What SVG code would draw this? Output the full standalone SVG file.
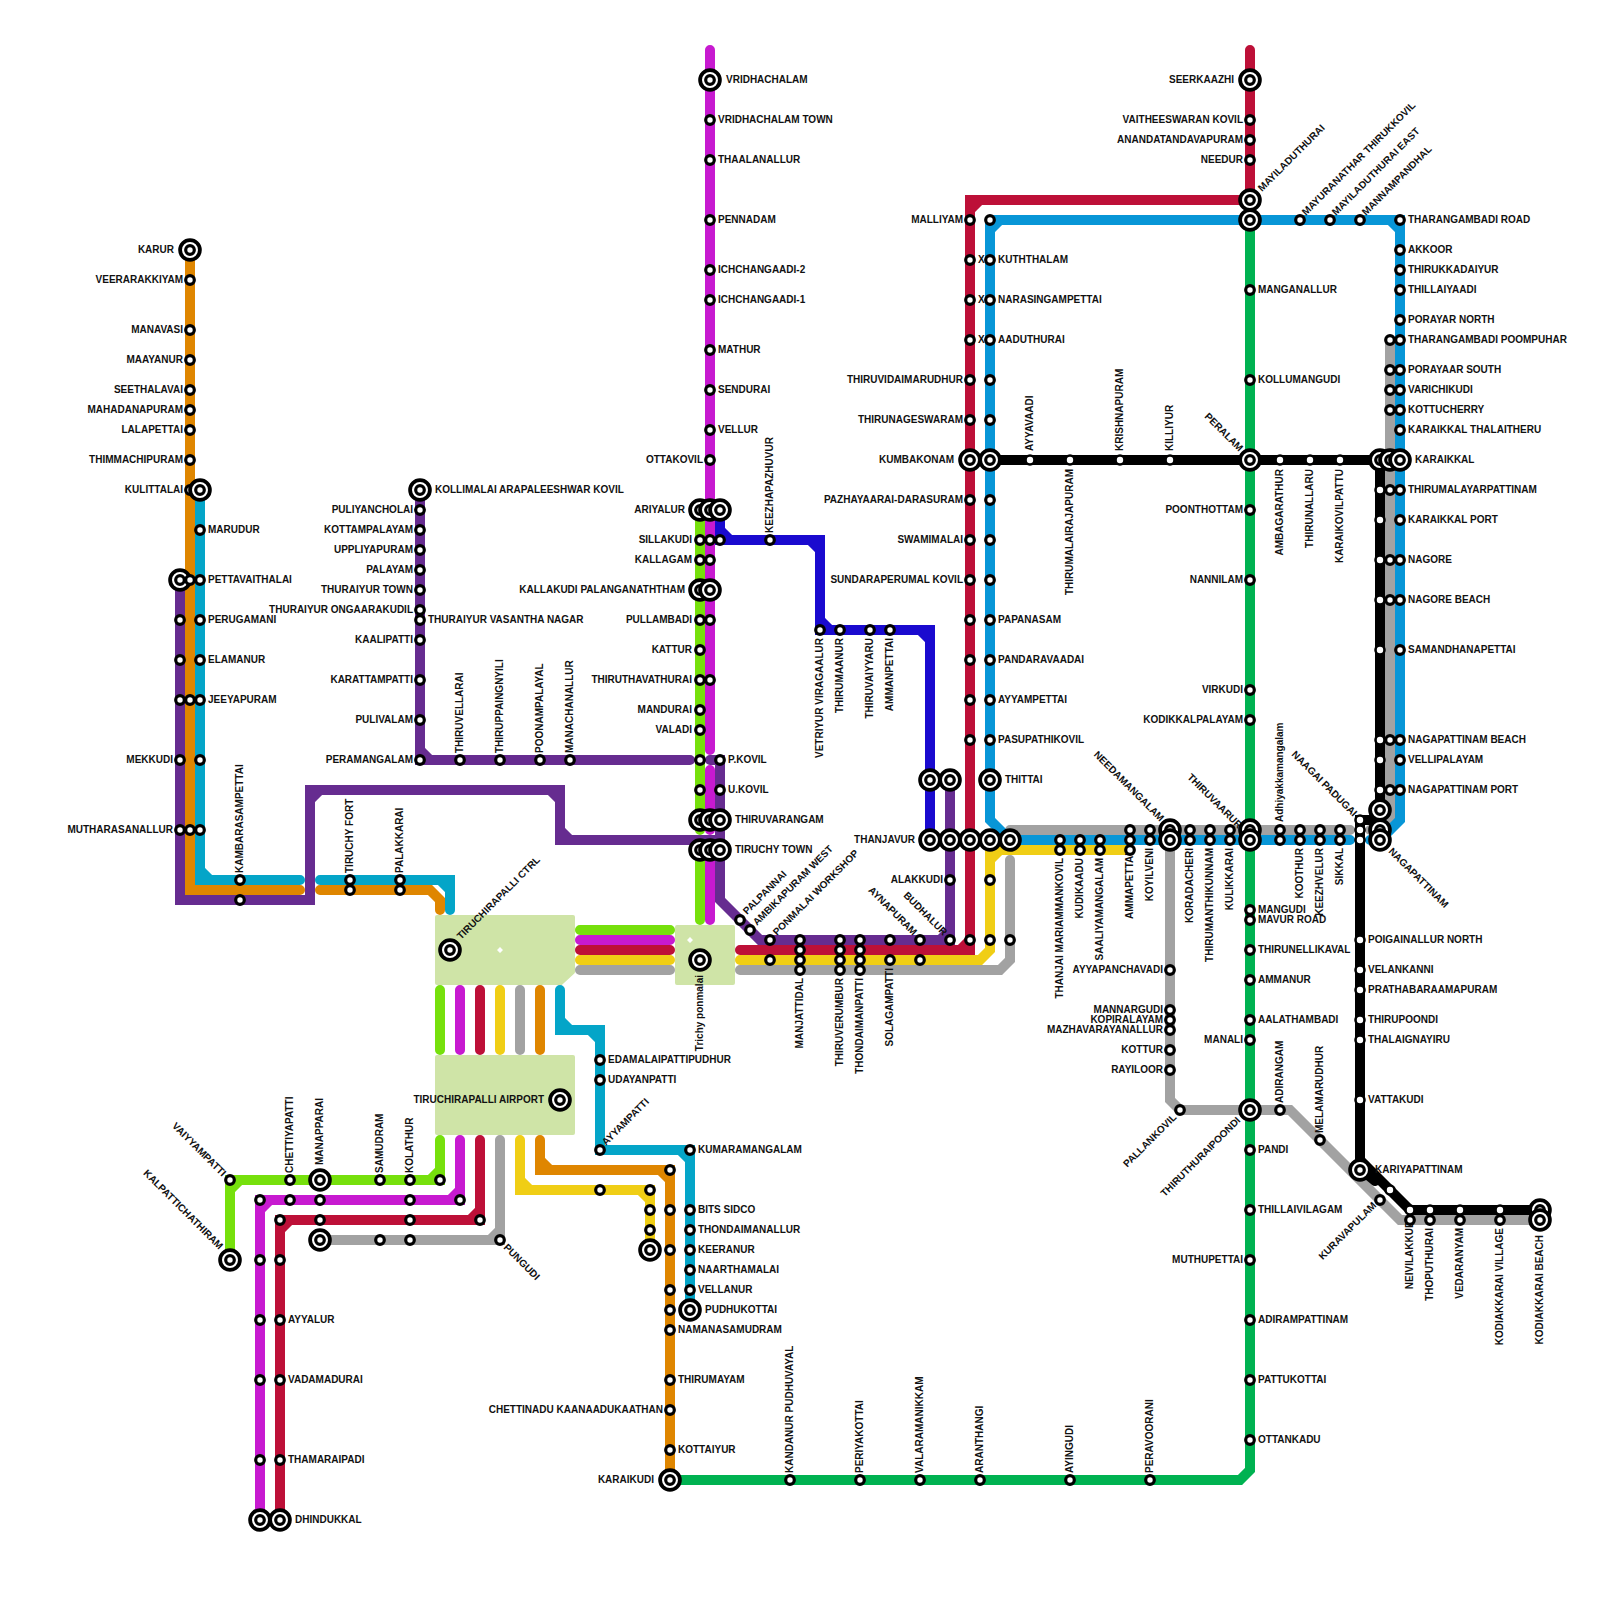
<svg xmlns="http://www.w3.org/2000/svg" width="1600" height="1600" viewBox="0 0 1600 1600">
<style>
text{font:bold 10px "Liberation Sans",Arial,sans-serif;fill:#111}
.e{text-anchor:end}
.ln{fill:none;stroke-width:10;stroke-linecap:round;stroke-linejoin:miter}
.land{fill:#cfe4a7;stroke:#cfe4a7;stroke-width:4;stroke-linejoin:round}
.s{fill:#fff;stroke:#000;stroke-width:3.2}
.k{fill:#fff;stroke:#000;stroke-width:2.6}
.i{fill:#fff;stroke:#000;stroke-width:3.8}
</style>
<defs>
<circle id="s" class="s" r="4.3"/>
<circle id="k" class="k" r="4.5"/>
<g id="i"><circle class="i" r="9.9"/><circle class="s" r="4.3"/></g>
</defs>
<rect width="1600" height="1600" fill="#fff"/>
<g id="land">
<path class="land" d="M437 917H573V972L561 983H437Z"/>
<path class="land" d="M437 1057H573V1133H437Z"/>
<path class="land" d="M677 927H733V983H677Z"/>
<path d="M500 947L503 950L500 953L497 950ZM690 937L693 940L690 943L687 940Z" fill="#fff"/>
</g>
<g id="connectors">
<path class="ln" stroke="#04a5c8" d="M200 490V880H300M200 870L210 880M320 880H450V910M440 880L450 890M560 990V1030H600V1150H690V1310M560 1020L570 1030M590 1030L600 1040M680 1150L690 1160"/>
<path class="ln" stroke="#df8600" d="M190 250V890H300M320 890H430L440 900V910M540 990V1050M540 1140V1170H670V1480M540 1160L550 1170M660 1170L670 1180"/>
<path class="ln" stroke="#76e00c" d="M700 510V830M700 850V920M580 930H670M440 990V1050M440 1140V1180H230V1260M430 1180L440 1170M230 1190L240 1180"/>
<path class="ln" stroke="#c71ad0" d="M710 50V750M710 770V830M710 850V920M580 940H670M460 990V1050M460 1140V1200H260V1520M450 1200L460 1190M260 1210L270 1200"/>
<path class="ln" stroke="#bd1038" d="M1250 50V200H970V950H740M970 210L980 200M960 950L970 940M580 950H670M480 990V1050M480 1140V1220H280V1520M470 1220L480 1210M280 1230L290 1220"/>
<path class="ln" stroke="#662c90" d="M180 580V900H310V790H560V840H720M310 800L320 790M550 790L560 800M560 830L570 840M420 490V760H690M420 750L430 760M950 780V940H760L720 900V760H710M940 940L950 930"/>
<path class="ln" stroke="#1a0acf" d="M720 510V540H820V630H930V840M720 530L730 540M810 540L820 550M820 620L830 630M920 630L930 640"/>
<path class="ln" stroke="#a2a2a2" d="M740 970H1000L1010 960V860M580 970H670M520 990V1050M500 1140V1240H320M490 1240L500 1230M1010 830H1350M1370 830H1380L1390 820V340M1170 840V1100L1180 1110H1290L1400 1220H1540"/>
<path class="ln" stroke="#f0ce15" d="M740 960H980L990 950V850H1130M990 860L1000 850M580 960H670M500 990V1050M520 1140V1190H650V1250M520 1180L530 1190M640 1190L650 1200"/>
<path class="ln" stroke="#0896d7" d="M990 220H1400V820L1380 840H1370M1350 840H1010L990 820V220M990 230L1000 220M1390 220L1400 230"/>
<path class="ln" stroke="#00b251" d="M1250 220V1470L1240 1480H670"/>
<path class="ln" stroke="#000" d="M990 460H1380V810M1380 820H1360V1160L1410 1210H1540M1362 1170L1375 1181"/>
</g>
<g id="n001"><text class="e" x="174" y="253">KARUR</text><use href="#i" x="190" y="250"/></g>
<g id="n002"><text class="e" x="183" y="283">VEERARAKKIYAM</text><use href="#s" x="190" y="280"/></g>
<g id="n003"><text class="e" x="183" y="333">MANAVASI</text><use href="#s" x="190" y="330"/></g>
<g id="n004"><text class="e" x="183" y="363">MAAYANUR</text><use href="#s" x="190" y="360"/></g>
<g id="n005"><text class="e" x="183" y="393">SEETHALAVAI</text><use href="#s" x="190" y="390"/></g>
<g id="n006"><text class="e" x="183" y="413">MAHADANAPURAM</text><use href="#s" x="190" y="410"/></g>
<g id="n007"><text class="e" x="183" y="433">LALAPETTAI</text><use href="#s" x="190" y="430"/></g>
<g id="n008"><text class="e" x="183" y="463">THIMMACHIPURAM</text><use href="#s" x="190" y="460"/></g>
<g id="n009"><text class="e" x="183" y="493">KULITTALAI</text><use href="#s" x="190" y="490"/><use href="#i" x="200" y="490"/></g>
<g id="n010"><text x="208" y="533">MARUDUR</text><use href="#s" x="200" y="530"/></g>
<g id="n011"><text x="208" y="583">PETTAVAITHALAI</text><use href="#i" x="180" y="580"/><use href="#s" x="190" y="580"/><use href="#s" x="200" y="580"/></g>
<g id="n012"><text x="208" y="623">PERUGAMANI</text><use href="#s" x="180" y="620"/><use href="#s" x="200" y="620"/></g>
<g id="n013"><text x="208" y="663">ELAMANUR</text><use href="#s" x="180" y="660"/><use href="#s" x="200" y="660"/></g>
<g id="n014"><text x="208" y="703">JEEYAPURAM</text><use href="#s" x="180" y="700"/><use href="#s" x="190" y="700"/><use href="#s" x="200" y="700"/></g>
<g id="n015"><text class="e" x="173" y="763">MEKKUDI</text><use href="#s" x="180" y="760"/><use href="#s" x="200" y="760"/></g>
<g id="n016"><text class="e" x="173" y="833">MUTHARASANALLUR</text><use href="#s" x="180" y="830"/><use href="#s" x="190" y="830"/><use href="#s" x="200" y="830"/></g>
<g id="n017"><text transform="translate(243 873) rotate(-90)">KAMBARASAMPETTAI</text><use href="#s" x="240" y="880"/><use href="#s" x="240" y="900"/></g>
<g id="n018"><text transform="translate(353 873) rotate(-90)">TIRUCHY FORT</text><use href="#s" x="350" y="880"/><use href="#s" x="350" y="890"/></g>
<g id="n019"><text transform="translate(403 873) rotate(-90)">PALAKKARAI</text><use href="#s" x="400" y="880"/><use href="#s" x="400" y="890"/></g>
<g id="n020"><text x="435" y="493">KOLLIMALAI ARAPALEESHWAR KOVIL</text><use href="#i" x="420" y="490"/></g>
<g id="n021"><text class="e" x="413" y="513">PULIYANCHOLAI</text><use href="#s" x="420" y="510"/></g>
<g id="n022"><text class="e" x="413" y="533">KOTTAMPALAYAM</text><use href="#s" x="420" y="530"/></g>
<g id="n023"><text class="e" x="413" y="553">UPPLIYAPURAM</text><use href="#s" x="420" y="550"/></g>
<g id="n024"><text class="e" x="413" y="573">PALAYAM</text><use href="#s" x="420" y="570"/></g>
<g id="n025"><text class="e" x="413" y="593">THURAIYUR TOWN</text><use href="#s" x="420" y="590"/></g>
<g id="n026"><text class="e" x="413" y="613">THURAIYUR ONGAARAKUDIL</text><use href="#s" x="420" y="610"/></g>
<g id="n027"><text x="428" y="623">THURAIYUR VASANTHA NAGAR</text><use href="#s" x="420" y="620"/></g>
<g id="n028"><text class="e" x="413" y="643">KAALIPATTI</text><use href="#s" x="420" y="640"/></g>
<g id="n029"><text class="e" x="413" y="683">KARATTAMPATTI</text><use href="#s" x="420" y="680"/></g>
<g id="n030"><text class="e" x="413" y="723">PULIVALAM</text><use href="#s" x="420" y="720"/></g>
<g id="n031"><text class="e" x="413" y="763">PERAMANGALAM</text><use href="#s" x="420" y="760"/></g>
<g id="n032"><text transform="translate(463 753) rotate(-90)">THIRUVELLARAI</text><use href="#s" x="460" y="760"/></g>
<g id="n033"><text transform="translate(503 753) rotate(-90)">THIRUPPAINGNYILI</text><use href="#s" x="500" y="760"/></g>
<g id="n034"><text transform="translate(543 753) rotate(-90)">POONAMPALAYAL</text><use href="#s" x="540" y="760"/></g>
<g id="n035"><text transform="translate(573 753) rotate(-90)">MANACHANALLUR</text><use href="#s" x="570" y="760"/></g>
<g id="n036"><text transform="translate(461 940) rotate(-45)">TIRUCHIRAPALLI CTRL</text><use href="#i" x="450" y="950"/></g>
<g id="n037"><text class="e" x="544" y="1103">TIRUCHIRAPALLI AIRPORT</text><use href="#i" x="560" y="1100"/></g>
<g id="n038"><text class="e" transform="translate(703 975) rotate(-90)">Trichy ponmalai</text><use href="#i" x="700" y="960"/></g>
<g id="n039"><text x="608" y="1063">EDAMALAIPATTIPUDHUR</text><use href="#s" x="600" y="1060"/></g>
<g id="n040"><text x="608" y="1083">UDAYANPATTI</text><use href="#s" x="600" y="1080"/></g>
<g id="n041"><text transform="translate(606 1146) rotate(-45)">AYYAMPATTI</text><use href="#s" x="600" y="1150"/></g>
<g id="n042"><text x="698" y="1153">KUMARAMANGALAM</text><use href="#s" x="690" y="1150"/></g>
<g id="n043"><text x="698" y="1213">BITS SIDCO</text><use href="#s" x="690" y="1210"/></g>
<g id="n044"><text x="698" y="1233">THONDAIMANALLUR</text><use href="#s" x="690" y="1230"/></g>
<g id="n045"><text x="698" y="1253">KEERANUR</text><use href="#s" x="690" y="1250"/></g>
<g id="n046"><text x="698" y="1273">NAARTHAMALAI</text><use href="#s" x="690" y="1270"/></g>
<g id="n047"><text x="698" y="1293">VELLANUR</text><use href="#s" x="690" y="1290"/></g>
<g id="n048"><text x="705" y="1313">PUDHUKOTTAI</text><use href="#i" x="690" y="1310"/></g>
<g id="n049"><text transform="rotate(45 222 1177)" class="e" x="222" y="1177">VAIYYAMPATTI</text><use href="#s" x="230" y="1180"/></g>
<g id="n050"><text transform="rotate(45 219 1250)" class="e" x="219" y="1250">KALPATTICHATHIRAM</text><use href="#i" x="230" y="1260"/></g>
<g id="n051"><text transform="translate(293 1173) rotate(-90)">CHETTIYAPATTI</text><use href="#s" x="290" y="1180"/><use href="#s" x="290" y="1200"/></g>
<g id="n052"><text transform="translate(323 1165) rotate(-90)">MANAPPARAI</text><use href="#i" x="320" y="1180"/><use href="#s" x="320" y="1200"/><use href="#s" x="320" y="1220"/></g>
<g id="n053"><use href="#i" x="320" y="1240"/></g>
<g id="n054"><text transform="translate(383 1173) rotate(-90)">SAMUDRAM</text><use href="#s" x="380" y="1180"/><use href="#s" x="380" y="1240"/></g>
<g id="n055"><text transform="translate(413 1173) rotate(-90)">KOLATHUR</text><use href="#s" x="410" y="1180"/><use href="#s" x="410" y="1200"/><use href="#s" x="410" y="1220"/><use href="#s" x="410" y="1240"/></g>
<g id="n056"><use href="#s" x="440" y="1180"/></g>
<g id="n057"><use href="#s" x="460" y="1200"/></g>
<g id="n058"><use href="#s" x="480" y="1220"/></g>
<g id="n059"><text transform="rotate(45 503 1248)" x="503" y="1248">PUNGUDI</text><use href="#s" x="500" y="1240"/></g>
<g id="n060"><use href="#s" x="260" y="1200"/></g>
<g id="n061"><use href="#s" x="280" y="1220"/></g>
<g id="n062"><use href="#s" x="260" y="1260"/><use href="#s" x="280" y="1260"/></g>
<g id="n063"><text x="288" y="1323">AYYALUR</text><use href="#s" x="260" y="1320"/><use href="#s" x="280" y="1320"/></g>
<g id="n064"><text x="288" y="1383">VADAMADURAI</text><use href="#s" x="260" y="1380"/><use href="#s" x="280" y="1380"/></g>
<g id="n065"><text x="288" y="1463">THAMARAIPADI</text><use href="#s" x="260" y="1460"/><use href="#s" x="280" y="1460"/></g>
<g id="n066"><text x="295" y="1523">DHINDUKKAL</text><use href="#i" x="260" y="1520"/><use href="#i" x="280" y="1520"/></g>
<g id="n067"><use href="#s" x="600" y="1190"/></g>
<g id="n068"><use href="#s" x="650" y="1190"/></g>
<g id="n069"><use href="#s" x="650" y="1210"/></g>
<g id="n070"><use href="#s" x="650" y="1230"/></g>
<g id="n071"><use href="#i" x="650" y="1250"/></g>
<g id="n072"><use href="#s" x="670" y="1170"/></g>
<g id="n073"><use href="#s" x="670" y="1210"/></g>
<g id="n074"><use href="#s" x="670" y="1250"/></g>
<g id="n075"><use href="#s" x="670" y="1290"/></g>
<g id="n076"><use href="#s" x="670" y="1310"/></g>
<g id="n077"><text x="678" y="1333">NAMANASAMUDRAM</text><use href="#s" x="670" y="1330"/></g>
<g id="n078"><text x="678" y="1383">THIRUMAYAM</text><use href="#s" x="670" y="1380"/></g>
<g id="n079"><text class="e" x="663" y="1413">CHETTINADU KAANAADUKAATHAN</text><use href="#s" x="670" y="1410"/></g>
<g id="n080"><text x="678" y="1453">KOTTAIYUR</text><use href="#s" x="670" y="1450"/></g>
<g id="n081"><text class="e" x="654" y="1483">KARAIKUDI</text><use href="#i" x="670" y="1480"/></g>
<g id="n082"><text x="726" y="83">VRIDHACHALAM</text><use href="#i" x="710" y="80"/></g>
<g id="n083"><text x="718" y="123">VRIDHACHALAM TOWN</text><use href="#s" x="710" y="120"/></g>
<g id="n084"><text x="718" y="163">THAALANALLUR</text><use href="#s" x="710" y="160"/></g>
<g id="n085"><text x="718" y="223">PENNADAM</text><use href="#s" x="710" y="220"/></g>
<g id="n086"><text x="718" y="273">ICHCHANGAADI-2</text><use href="#s" x="710" y="270"/></g>
<g id="n087"><text x="718" y="303">ICHCHANGAADI-1</text><use href="#s" x="710" y="300"/></g>
<g id="n088"><text x="718" y="353">MATHUR</text><use href="#s" x="710" y="350"/></g>
<g id="n089"><text x="718" y="393">SENDURAI</text><use href="#s" x="710" y="390"/></g>
<g id="n090"><text x="718" y="433">VELLUR</text><use href="#s" x="710" y="430"/></g>
<g id="n091"><text class="e" x="703" y="463">OTTAKOVIL</text><use href="#s" x="710" y="460"/></g>
<g id="n092"><text class="e" x="685" y="513">ARIYALUR</text><use href="#i" x="700" y="510"/><use href="#i" x="710" y="510"/><use href="#i" x="720" y="510"/></g>
<g id="n093"><text class="e" x="692" y="543">SILLAKUDI</text><use href="#s" x="700" y="540"/><use href="#s" x="710" y="540"/><use href="#s" x="720" y="540"/></g>
<g id="n094"><text class="e" x="692" y="563">KALLAGAM</text><use href="#s" x="700" y="560"/><use href="#s" x="710" y="560"/></g>
<g id="n095"><text class="e" x="685" y="593">KALLAKUDI PALANGANATHTHAM</text><use href="#i" x="700" y="590"/><use href="#i" x="710" y="590"/></g>
<g id="n096"><text class="e" x="692" y="623">PULLAMBADI</text><use href="#s" x="700" y="620"/><use href="#s" x="710" y="620"/></g>
<g id="n097"><text class="e" x="692" y="653">KATTUR</text><use href="#s" x="700" y="650"/></g>
<g id="n098"><text class="e" x="692" y="683">THIRUTHAVATHURAI</text><use href="#s" x="700" y="680"/><use href="#s" x="710" y="680"/></g>
<g id="n099"><text class="e" x="692" y="713">MANDURAI</text><use href="#s" x="700" y="710"/></g>
<g id="n100"><text class="e" x="692" y="733">VALADI</text><use href="#s" x="700" y="730"/></g>
<g id="n101"><text x="728" y="763">P.KOVIL</text><use href="#s" x="700" y="760"/><use href="#s" x="720" y="760"/></g>
<g id="n102"><text x="728" y="793">U.KOVIL</text><use href="#s" x="700" y="790"/><use href="#s" x="720" y="790"/></g>
<g id="n103"><text x="735" y="823">THIRUVARANGAM</text><use href="#i" x="700" y="820"/><use href="#i" x="710" y="820"/><use href="#i" x="720" y="820"/></g>
<g id="n104"><text x="735" y="853">TIRUCHY TOWN</text><use href="#i" x="700" y="850"/><use href="#i" x="710" y="850"/><use href="#i" x="720" y="850"/></g>
<g id="n105"><text transform="translate(773 533) rotate(-90)">KEEZHAPAZHUVUR</text><use href="#s" x="770" y="540"/></g>
<g id="n106"><text class="e" transform="translate(823 638) rotate(-90)">VETRIYUR VIRAGAALUR</text><use href="#s" x="820" y="630"/></g>
<g id="n107"><text class="e" transform="translate(843 638) rotate(-90)">THIRUMAANUR</text><use href="#s" x="840" y="630"/></g>
<g id="n108"><text class="e" transform="translate(873 638) rotate(-90)">THIRUVAIYYARU</text><use href="#s" x="870" y="630"/></g>
<g id="n109"><text class="e" transform="translate(893 638) rotate(-90)">AMMANPETTAI</text><use href="#s" x="890" y="630"/></g>
<g id="n110"><use href="#i" x="930" y="780"/><use href="#i" x="950" y="780"/></g>
<g id="n111"><text class="e" x="915" y="843">THANJAVUR</text><use href="#i" x="930" y="840"/><use href="#i" x="950" y="840"/><use href="#i" x="970" y="840"/><use href="#i" x="990" y="840"/><use href="#i" x="1010" y="840"/></g>
<g id="n112"><text class="e" x="943" y="883">ALAKKUDI</text><use href="#s" x="950" y="880"/></g>
<g id="n113"><text transform="rotate(-45 747 915)" x="747" y="915">PALPANNAI</text><use href="#s" x="740" y="920"/></g>
<g id="n114"><text transform="rotate(-45 757 926)" x="757" y="926">AMBIKAPURAM WEST</text><use href="#s" x="750" y="930"/></g>
<g id="n115"><text transform="rotate(-45 777 936)" x="777" y="936">PONMALAI WORKSHOP</text><use href="#s" x="770" y="940"/><use href="#s" x="770" y="960"/></g>
<g id="n116"><text class="e" transform="translate(803 978) rotate(-90)">MANJATTIDAL</text><use href="#s" x="800" y="940"/><use href="#s" x="800" y="950"/><use href="#s" x="800" y="960"/><use href="#s" x="800" y="970"/></g>
<g id="n117"><text class="e" transform="translate(843 978) rotate(-90)">THIRUVERUMBUR</text><use href="#s" x="840" y="940"/><use href="#s" x="840" y="950"/><use href="#s" x="840" y="960"/><use href="#s" x="840" y="970"/></g>
<g id="n118"><text class="e" transform="translate(863 978) rotate(-90)">THONDAIMANPATTI</text><use href="#s" x="860" y="940"/><use href="#s" x="860" y="950"/><use href="#s" x="860" y="960"/><use href="#s" x="860" y="970"/></g>
<g id="n119"><text class="e" transform="translate(893 968) rotate(-90)">SOLAGAMPATTI</text><use href="#s" x="890" y="940"/><use href="#s" x="890" y="960"/></g>
<g id="n120"><text class="e" transform="rotate(45 913 936)" x="913" y="936">AYNAPURAM</text><use href="#s" x="920" y="940"/><use href="#s" x="920" y="960"/></g>
<g id="n121"><text class="e" transform="rotate(45 943 936)" x="943" y="936">BUDHALUR</text><use href="#s" x="950" y="940"/></g>
<g id="n122"><use href="#s" x="970" y="940"/></g>
<g id="n123"><use href="#s" x="990" y="880"/></g>
<g id="n124"><use href="#s" x="990" y="940"/></g>
<g id="n125"><use href="#s" x="1010" y="940"/></g>
<g id="n126"><text class="e" x="963" y="223">MALLIYAM</text><use href="#s" x="970" y="220"/><use href="#s" x="990" y="220"/></g>
<g id="n127"><text x="978" y="263">X</text><text x="998" y="263">KUTHTHALAM</text><use href="#s" x="970" y="260"/><use href="#s" x="990" y="260"/></g>
<g id="n128"><text x="978" y="303">X</text><text x="998" y="303">NARASINGAMPETTAI</text><use href="#s" x="970" y="300"/><use href="#s" x="990" y="300"/></g>
<g id="n129"><text x="978" y="343">X</text><text x="998" y="343">AADUTHURAI</text><use href="#s" x="970" y="340"/><use href="#s" x="990" y="340"/></g>
<g id="n130"><text class="e" x="963" y="383">THIRUVIDAIMARUDHUR</text><use href="#s" x="970" y="380"/><use href="#s" x="990" y="380"/></g>
<g id="n131"><text class="e" x="963" y="423">THIRUNAGESWARAM</text><use href="#s" x="970" y="420"/><use href="#s" x="990" y="420"/></g>
<g id="n132"><text class="e" x="954" y="463">KUMBAKONAM</text><use href="#i" x="970" y="460"/><use href="#i" x="990" y="460"/></g>
<g id="n133"><text class="e" x="963" y="503">PAZHAYAARAI-DARASURAM</text><use href="#s" x="970" y="500"/><use href="#s" x="990" y="500"/></g>
<g id="n134"><text class="e" x="963" y="543">SWAMIMALAI</text><use href="#s" x="970" y="540"/><use href="#s" x="990" y="540"/></g>
<g id="n135"><text class="e" x="963" y="583">SUNDARAPERUMAL KOVIL</text><use href="#s" x="970" y="580"/><use href="#s" x="990" y="580"/></g>
<g id="n136"><text x="998" y="623">PAPANASAM</text><use href="#s" x="970" y="620"/><use href="#s" x="990" y="620"/></g>
<g id="n137"><text x="998" y="663">PANDARAVAADAI</text><use href="#s" x="970" y="660"/><use href="#s" x="990" y="660"/></g>
<g id="n138"><text x="998" y="703">AYYAMPETTAI</text><use href="#s" x="970" y="700"/><use href="#s" x="990" y="700"/></g>
<g id="n139"><text x="998" y="743">PASUPATHIKOVIL</text><use href="#s" x="970" y="740"/><use href="#s" x="990" y="740"/></g>
<g id="n140"><text x="1005" y="783">THITTAI</text><use href="#i" x="990" y="780"/></g>
<g id="n141"><text transform="translate(1033 451) rotate(-90)">AYYAVAADI</text><use href="#k" x="1030" y="460"/></g>
<g id="n142"><text class="e" transform="translate(1073 469) rotate(-90)">THIRUMALAIRAJAPURAM</text><use href="#k" x="1070" y="460"/></g>
<g id="n143"><text transform="translate(1123 451) rotate(-90)">KRISHNAPURAM</text><use href="#k" x="1120" y="460"/></g>
<g id="n144"><text transform="translate(1173 451) rotate(-90)">KILLIYUR</text><use href="#k" x="1170" y="460"/></g>
<g id="n145"><text class="e" transform="rotate(45 1239 452)" x="1239" y="452">PERALAM</text><use href="#i" x="1250" y="460"/></g>
<g id="n146"><text class="e" transform="translate(1283 469) rotate(-90)">AMBAGARATHUR</text><use href="#k" x="1280" y="460"/></g>
<g id="n147"><text class="e" transform="translate(1313 469) rotate(-90)">THIRUNALLARU</text><use href="#k" x="1310" y="460"/></g>
<g id="n148"><text class="e" transform="translate(1343 469) rotate(-90)">KARAIKOVILPATTU</text><use href="#k" x="1340" y="460"/></g>
<g id="n149"><text class="e" x="1234" y="83">SEERKAAZHI</text><use href="#i" x="1250" y="80"/></g>
<g id="n150"><text class="e" x="1243" y="123">VAITHEESWARAN KOVIL</text><use href="#s" x="1250" y="120"/></g>
<g id="n151"><text class="e" x="1243" y="143">ANANDATANDAVAPURAM</text><use href="#s" x="1250" y="140"/></g>
<g id="n152"><text class="e" x="1243" y="163">NEEDUR</text><use href="#s" x="1250" y="160"/></g>
<g id="n153"><text transform="rotate(-45 1262 192)" x="1262" y="192">MAYILADUTHURAI</text><use href="#i" x="1250" y="200"/></g>
<g id="n154"><use href="#i" x="1250" y="220"/></g>
<g id="n155"><text transform="rotate(-45 1306 216)" x="1306" y="216">MAYURANATHAR THIRUKKOVIL</text><use href="#s" x="1300" y="220"/></g>
<g id="n156"><text transform="rotate(-45 1336 216)" x="1336" y="216">MAYILADUTHURAI EAST</text><use href="#s" x="1330" y="220"/></g>
<g id="n157"><text transform="rotate(-45 1366 216)" x="1366" y="216">MANNAMPANDHAL</text><use href="#s" x="1360" y="220"/></g>
<g id="n158"><text x="1408" y="223">THARANGAMBADI ROAD</text><use href="#s" x="1400" y="220"/></g>
<g id="n159"><text x="1408" y="253">AKKOOR</text><use href="#s" x="1400" y="250"/></g>
<g id="n160"><text x="1408" y="273">THIRUKKADAIYUR</text><use href="#s" x="1400" y="270"/></g>
<g id="n161"><text x="1408" y="293">THILLAIYAADI</text><use href="#s" x="1400" y="290"/></g>
<g id="n162"><text x="1408" y="323">PORAYAR NORTH</text><use href="#s" x="1400" y="320"/></g>
<g id="n163"><text x="1408" y="343">THARANGAMBADI POOMPUHAR</text><use href="#s" x="1390" y="340"/><use href="#s" x="1400" y="340"/></g>
<g id="n164"><text x="1408" y="373">PORAYAAR SOUTH</text><use href="#s" x="1390" y="370"/><use href="#s" x="1400" y="370"/></g>
<g id="n165"><text x="1408" y="393">VARICHIKUDI</text><use href="#s" x="1390" y="390"/><use href="#s" x="1400" y="390"/></g>
<g id="n166"><text x="1408" y="413">KOTTUCHERRY</text><use href="#s" x="1390" y="410"/><use href="#s" x="1400" y="410"/></g>
<g id="n167"><text x="1408" y="433">KARAIKKAL THALAITHERU</text><use href="#s" x="1400" y="430"/></g>
<g id="n168"><text x="1415" y="463">KARAIKKAL</text><use href="#i" x="1380" y="460"/><use href="#i" x="1390" y="460"/><use href="#i" x="1400" y="460"/></g>
<g id="n169"><text x="1408" y="493">THIRUMALAYARPATTINAM</text><use href="#k" x="1380" y="490"/><use href="#s" x="1390" y="490"/><use href="#s" x="1400" y="490"/></g>
<g id="n170"><text x="1408" y="523">KARAIKKAL PORT</text><use href="#k" x="1380" y="520"/><use href="#s" x="1400" y="520"/></g>
<g id="n171"><text x="1408" y="563">NAGORE</text><use href="#k" x="1380" y="560"/><use href="#s" x="1390" y="560"/><use href="#s" x="1400" y="560"/></g>
<g id="n172"><text x="1408" y="603">NAGORE BEACH</text><use href="#k" x="1380" y="600"/><use href="#s" x="1390" y="600"/><use href="#s" x="1400" y="600"/></g>
<g id="n173"><text x="1408" y="653">SAMANDHANAPETTAI</text><use href="#k" x="1380" y="650"/><use href="#s" x="1400" y="650"/></g>
<g id="n174"><text x="1408" y="743">NAGAPATTINAM BEACH</text><use href="#k" x="1380" y="740"/><use href="#s" x="1390" y="740"/><use href="#s" x="1400" y="740"/></g>
<g id="n175"><text x="1408" y="763">VELLIPALAYAM</text><use href="#k" x="1380" y="760"/><use href="#s" x="1400" y="760"/></g>
<g id="n176"><text x="1408" y="793">NAGAPATTINAM PORT</text><use href="#k" x="1380" y="790"/><use href="#s" x="1390" y="790"/><use href="#s" x="1400" y="790"/></g>
<g id="n177"><text class="e" transform="rotate(45 1353 817)" x="1353" y="817">NAAGAI PADUGAI</text><use href="#k" x="1360" y="820"/><use href="#k" x="1360" y="830"/><use href="#k" x="1360" y="840"/></g>
<g id="n178"><text transform="rotate(45 1388 852)" x="1388" y="852">NAGAPATTINAM</text><use href="#i" x="1380" y="810"/><use href="#i" x="1380" y="830"/><use href="#i" x="1380" y="840"/></g>
<g id="n179"><text class="e" transform="translate(1063 858) rotate(-90)">THANJAI MARIAMMANKOVIL</text><use href="#s" x="1060" y="840"/><use href="#s" x="1060" y="850"/></g>
<g id="n180"><text class="e" transform="translate(1083 858) rotate(-90)">KUDIKAADU</text><use href="#s" x="1080" y="840"/><use href="#s" x="1080" y="850"/></g>
<g id="n181"><text class="e" transform="translate(1103 858) rotate(-90)">SAALIYAMANGALAM</text><use href="#s" x="1100" y="840"/><use href="#s" x="1100" y="850"/></g>
<g id="n182"><text class="e" transform="translate(1133 853) rotate(-90)">AMMAPETTAI</text><use href="#s" x="1130" y="830"/><use href="#s" x="1130" y="840"/><use href="#s" x="1130" y="850"/></g>
<g id="n183"><text class="e" transform="translate(1153 848) rotate(-90)">KOYILVENI</text><use href="#s" x="1150" y="830"/><use href="#s" x="1150" y="840"/></g>
<g id="n184"><text class="e" transform="rotate(45 1160 822)" x="1160" y="822">NEEDAMANGALAM</text><use href="#i" x="1170" y="830"/><use href="#i" x="1170" y="840"/></g>
<g id="n185"><text class="e" transform="translate(1193 848) rotate(-90)">KORADACHERI</text><use href="#s" x="1190" y="830"/><use href="#s" x="1190" y="840"/></g>
<g id="n186"><text class="e" transform="translate(1213 848) rotate(-90)">THIRUMANTHIKUNNAM</text><use href="#s" x="1210" y="830"/><use href="#s" x="1210" y="840"/></g>
<g id="n187"><text class="e" transform="translate(1233 848) rotate(-90)">KULIKKARAI</text><use href="#s" x="1230" y="830"/><use href="#s" x="1230" y="840"/></g>
<g id="n188"><text class="e" transform="rotate(45 1238 829)" x="1238" y="829">THIRUVAARUR</text><use href="#i" x="1250" y="830"/><use href="#i" x="1250" y="840"/></g>
<g id="n189"><text transform="translate(1283 822) rotate(-90)">Adhiyakkamangalam</text><use href="#s" x="1280" y="830"/><use href="#s" x="1280" y="840"/></g>
<g id="n190"><text class="e" transform="translate(1303 848) rotate(-90)">KOOTHUR</text><use href="#s" x="1300" y="830"/><use href="#s" x="1300" y="840"/></g>
<g id="n191"><text class="e" transform="translate(1323 848) rotate(-90)">KEEZHVELUR</text><use href="#s" x="1320" y="830"/><use href="#s" x="1320" y="840"/></g>
<g id="n192"><text class="e" transform="translate(1343 848) rotate(-90)">SIKKAL</text><use href="#s" x="1340" y="830"/><use href="#s" x="1340" y="840"/></g>
<g id="n193"><text x="1258" y="293">MANGANALLUR</text><use href="#s" x="1250" y="290"/></g>
<g id="n194"><text x="1258" y="383">KOLLUMANGUDI</text><use href="#s" x="1250" y="380"/></g>
<g id="n195"><text class="e" x="1243" y="513">POONTHOTTAM</text><use href="#s" x="1250" y="510"/></g>
<g id="n196"><text class="e" x="1243" y="583">NANNILAM</text><use href="#s" x="1250" y="580"/></g>
<g id="n197"><text class="e" x="1243" y="693">VIRKUDI</text><use href="#s" x="1250" y="690"/></g>
<g id="n198"><text class="e" x="1243" y="723">KODIKKALPALAYAM</text><use href="#s" x="1250" y="720"/></g>
<g id="n199"><text x="1258" y="913">MANGUDI</text><use href="#s" x="1250" y="910"/></g>
<g id="n200"><text x="1258" y="923">MAVUR ROAD</text><use href="#s" x="1250" y="920"/></g>
<g id="n201"><text x="1258" y="953">THIRUNELLIKAVAL</text><use href="#s" x="1250" y="950"/></g>
<g id="n202"><text x="1258" y="983">AMMANUR</text><use href="#s" x="1250" y="980"/></g>
<g id="n203"><text x="1258" y="1023">AALATHAMBADI</text><use href="#s" x="1250" y="1020"/></g>
<g id="n204"><text class="e" x="1243" y="1043">MANALI</text><use href="#s" x="1250" y="1040"/></g>
<g id="n205"><text class="e" transform="rotate(-45 1241 1121)" x="1241" y="1121">THIRUTHURAIPOONDI</text><use href="#i" x="1250" y="1110"/></g>
<g id="n206"><text x="1258" y="1153">PANDI</text><use href="#s" x="1250" y="1150"/></g>
<g id="n207"><text x="1258" y="1213">THILLAIVILAGAM</text><use href="#s" x="1250" y="1210"/></g>
<g id="n208"><text class="e" x="1243" y="1263">MUTHUPETTAI</text><use href="#s" x="1250" y="1260"/></g>
<g id="n209"><text x="1258" y="1323">ADIRAMPATTINAM</text><use href="#s" x="1250" y="1320"/></g>
<g id="n210"><text x="1258" y="1383">PATTUKOTTAI</text><use href="#s" x="1250" y="1380"/></g>
<g id="n211"><text x="1258" y="1443">OTTANKADU</text><use href="#s" x="1250" y="1440"/></g>
<g id="n212"><text transform="translate(793 1473) rotate(-90)">KANDANUR PUDHUVAYAL</text><use href="#s" x="790" y="1480"/></g>
<g id="n213"><text transform="translate(863 1473) rotate(-90)">PERIYAKOTTAI</text><use href="#s" x="860" y="1480"/></g>
<g id="n214"><text transform="translate(923 1473) rotate(-90)">VALARAMANIKKAM</text><use href="#s" x="920" y="1480"/></g>
<g id="n215"><text transform="translate(983 1473) rotate(-90)">ARANTHANGI</text><use href="#s" x="980" y="1480"/></g>
<g id="n216"><text transform="translate(1073 1473) rotate(-90)">AYINGUDI</text><use href="#s" x="1070" y="1480"/></g>
<g id="n217"><text transform="translate(1153 1473) rotate(-90)">PERAVOORANI</text><use href="#s" x="1150" y="1480"/></g>
<g id="n218"><text class="e" x="1163" y="973">AYYAPANCHAVADI</text><use href="#s" x="1170" y="970"/></g>
<g id="n219"><text class="e" x="1163" y="1013">MANNARGUDI</text><use href="#s" x="1170" y="1010"/></g>
<g id="n220"><text class="e" x="1163" y="1023">KOPIRALAYAM</text><use href="#s" x="1170" y="1020"/></g>
<g id="n221"><text class="e" x="1163" y="1033">MAZHAVARAYANALLUR</text><use href="#s" x="1170" y="1030"/></g>
<g id="n222"><text class="e" x="1163" y="1053">KOTTUR</text><use href="#s" x="1170" y="1050"/></g>
<g id="n223"><text class="e" x="1163" y="1073">RAYILOOR</text><use href="#s" x="1170" y="1070"/></g>
<g id="n224"><text class="e" transform="rotate(-45 1177 1118)" x="1177" y="1118">PALLANKOVIL</text><use href="#s" x="1180" y="1110"/></g>
<g id="n225"><text transform="translate(1283 1103) rotate(-90)">ADIRANGAM</text><use href="#s" x="1280" y="1110"/></g>
<g id="n226"><text transform="translate(1323 1133) rotate(-90)">MELAMARUDHUR</text><use href="#s" x="1320" y="1140"/></g>
<g id="n227"><text class="e" transform="rotate(-45 1377 1206)" x="1377" y="1206">KURAVAPULAM</text><use href="#s" x="1380" y="1200"/></g>
<g id="n228"><text x="1368" y="943">POIGAINALLUR NORTH</text><use href="#k" x="1360" y="940"/></g>
<g id="n229"><text x="1368" y="973">VELANKANNI</text><use href="#k" x="1360" y="970"/></g>
<g id="n230"><text x="1368" y="993">PRATHABARAAMAPURAM</text><use href="#k" x="1360" y="990"/></g>
<g id="n231"><text x="1368" y="1023">THIRUPOONDI</text><use href="#k" x="1360" y="1020"/></g>
<g id="n232"><text x="1368" y="1043">THALAIGNAYIRU</text><use href="#k" x="1360" y="1040"/></g>
<g id="n233"><text x="1368" y="1103">VATTAKUDI</text><use href="#k" x="1360" y="1100"/></g>
<g id="n234"><text x="1375" y="1173">KARIYAPATTINAM</text><use href="#i" x="1360" y="1170"/></g>
<g id="n235"><use href="#k" x="1390" y="1190"/></g>
<g id="n236"><text class="e" transform="translate(1413 1218) rotate(-90)">NEIVILAKKUDI</text><use href="#k" x="1410" y="1210"/><use href="#s" x="1410" y="1220"/></g>
<g id="n237"><text class="e" transform="translate(1433 1228) rotate(-90)">THOPUTHURAI</text><use href="#k" x="1430" y="1210"/><use href="#s" x="1430" y="1220"/></g>
<g id="n238"><text class="e" transform="translate(1463 1228) rotate(-90)">VEDARANYAM</text><use href="#k" x="1460" y="1210"/><use href="#s" x="1460" y="1220"/></g>
<g id="n239"><text class="e" transform="translate(1503 1228) rotate(-90)">KODIAKKARAI VILLAGE</text><use href="#k" x="1500" y="1210"/><use href="#s" x="1500" y="1220"/></g>
<g id="n240"><text class="e" transform="translate(1543 1235) rotate(-90)">KODIAKKARAI BEACH</text><use href="#i" x="1540" y="1210"/><use href="#i" x="1540" y="1220"/></g>
</svg>
